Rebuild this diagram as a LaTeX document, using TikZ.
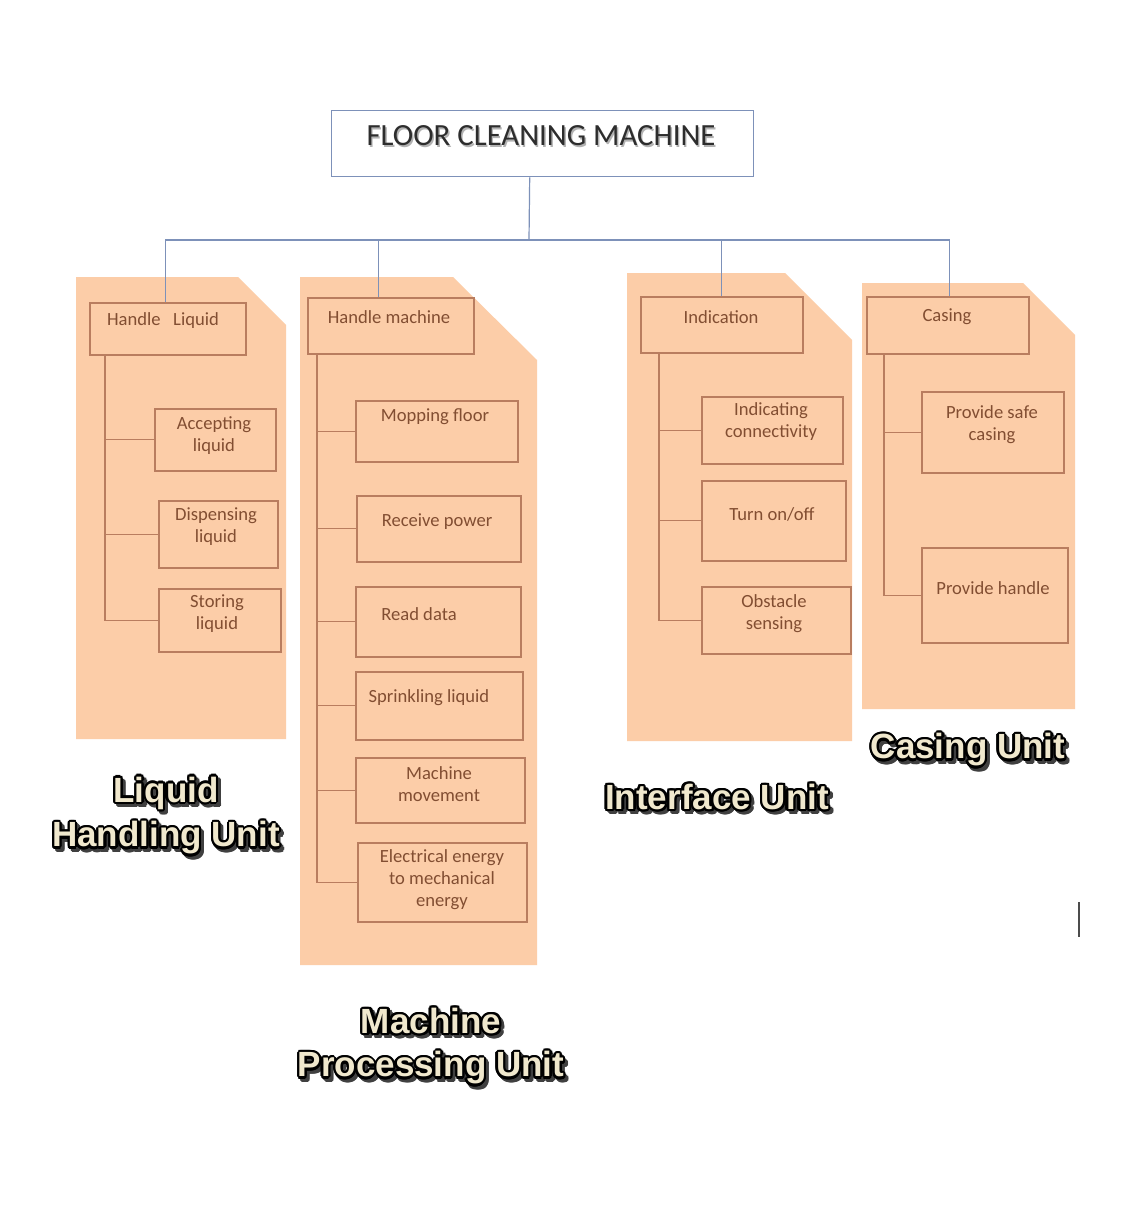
\documentclass[tikz,border=0pt]{standalone}
\usepackage{fontspec}
\setmainfont{Carlito}
\newfontfamily\labfont{Liberation Sans}
\definecolor{peach}{RGB}{252,205,168}
\definecolor{boxborder}{RGB}{185,125,95}
\definecolor{boxtext}{RGB}{130,78,50}
\definecolor{blueline}{RGB}{125,145,185}
\definecolor{cream}{RGB}{240,232,205}
\definecolor{titletext}{RGB}{45,45,45}
\tikzset{
  panel/.style={fill=peach, draw=none},
  bbox/.style={draw=boxborder, line width=0.75pt, inner sep=0pt},
  btext/.style={text=boxtext, align=center, inner sep=0pt, font=\fontsize{9.3}{11}\selectfont},
  brownline/.style={draw=boxborder, line width=0.6pt},
  blueconn/.style={draw=blueline, line width=0.6pt},
  titlebox/.style={draw=blueline, line width=0.7pt, inner sep=0pt},
  titlefont/.style={font=\fontsize{15.4}{18}\selectfont, inner sep=0pt},
  ulab/.style={font=\labfont\bfseries\fontsize{17.5}{21}\selectfont, inner sep=0pt},
  cursorline/.style={draw=black!70, line width=1pt}
}
\newcommand\bx[8]{%
  \node[bbox, anchor=north west, minimum width={(#4-#2)*0.5pt}, minimum height={(#5-#3)*0.5pt}] (#1) at (#2,#3) {};
  \node[btext] (#1t) at (#6,#7) {#8};
}
\newcommand\unitlabel[4]{%
  \foreach \a in {0,30,...,330}{
    \node[ulab, text=black!75, xshift={1.1pt*cos(\a)+1.5pt}, yshift={1.1pt*sin(\a)-1.6pt}] at (#2,#3) {#4};
  }
  \foreach \a in {0,22.5,...,337.5}{
    \node[ulab, text=black, xshift={1.1pt*cos(\a)}, yshift={1.1pt*sin(\a)}] at (#2,#3) {#4};
  }
  \node[ulab, text=cream] (#1) at (#2,#3) {#4};
}
\begin{document}
\begin{tikzpicture}[x=0.5pt, y=-0.5pt]
\useasboundingbox (0,0) rectangle (1126,1220);
\fill[white] (0,0) rectangle (1126,1220);

% panels
\path[panel] (76,277) -- (238,277) -- (286,325) -- (286,739) -- (76,739) -- cycle;
\path[panel] (300,277) -- (453,277) -- (537,360) -- (537,965) -- (300,965) -- cycle;
\path[panel] (627,273) -- (785,273) -- (852,340) -- (852,741) -- (627,741) -- cycle;
\path[panel] (862,283) -- (1023,283) -- (1075,335) -- (1075,709) -- (862,709) -- cycle;

% title
\node[titlebox, anchor=north west, minimum width={422*0.5pt}, minimum height={66*0.5pt}] (title) at (331,110) {};
\node[titlefont, text=black!30, xshift=0.7pt, yshift=-0.7pt] at (541,136) {FLOOR CLEANING MACHINE};
\node[titlefont, text=titletext] (titlet) at (541,136) {FLOOR CLEANING MACHINE};

% panel 1
\bx{hl}{89}{302}{245}{354}{163}{321}{Handle\ \ \ Liquid}
\bx{acc}{154}{408}{275}{470}{214}{436}{Accepting\\liquid}
\bx{dis}{158}{500}{277}{567}{216}{527}{Dispensing\\liquid}
\bx{sto}{158}{588}{280}{651}{217}{614}{Storing\\liquid}

% panel 2
\bx{hm}{307}{297}{473}{353}{389}{317}{Handle machine}
\bx{mop}{355}{400}{517}{461}{435}{417}{Mopping floor}
\bx{rec}{356}{495}{520}{561}{437}{522}{Receive power}
\bx{rea}{355}{586}{520}{656}{419}{614}{Read data}
\bx{spr}{355}{671}{522}{739}{429}{698}{Sprinkling liquid}
\bx{mov}{355}{757}{524}{822}{439}{784}{Machine\\movement}
\bx{ele}{357}{842}{526}{921}{442}{880}{Electrical energy\\to mechanical\\energy}

% panel 3
\bx{ind}{640}{296}{802}{352}{721}{317}{Indication}
\bx{con}{701}{396}{842}{463}{771}{422}{Indicating\\connectivity}
\bx{tur}{701}{480}{845}{560}{772}{514}{Turn on/off}
\bx{obs}{701}{586}{850}{653}{774}{614}{Obstacle\\sensing}

% panel 4
\bx{cas}{866}{296}{1028}{353}{947}{317}{Casing}
\bx{saf}{921}{391}{1063}{472}{992}{425}{Provide safe\\casing}
\bx{han}{921}{547}{1067}{642}{993}{588}{Provide handle}

% top connectors
\coordinate (bar) at (529,240);
\draw[blueconn] ([xshift=-6.5pt]title.south) -- (bar);
\draw[blueconn] ([xshift=-1pt]hl.north) |- (bar);
\draw[blueconn] ([xshift=-6pt]hm.north) |- (bar);
\draw[blueconn] (ind.north) |- (bar);
\draw[blueconn] ([xshift=1pt]cas.north) |- (bar);

% inner connectors
\foreach \c in {acc,dis,sto}{\draw[brownline] ([xshift=8pt]hl.south west) |- (\c.west);}
\foreach \c in {mop,rec,rea,spr,mov,ele}{\draw[brownline] ([xshift=5pt]hm.south west) |- (\c.west);}
\foreach \c in {con,tur,obs}{\draw[brownline] ([xshift=9.5pt]ind.south west) |- (\c.west);}
\foreach \c in {saf,han}{\draw[brownline] ([xshift=9pt]cas.south west) |- (\c.west);}

% unit labels
\unitlabel{lhu1}{166}{793}{Liquid}
\unitlabel{lhu2}{166}{838}{Handling Unit}
\unitlabel{mpu1}{431}{1021}{Machine}
\unitlabel{mpu2}{431}{1068}{Processing Unit}
\unitlabel{ifu}{717}{797}{Interface Unit}
\unitlabel{csu}{968}{750}{Casing Unit}

% cursor mark
\coordinate (cur1) at (1079,902);
\coordinate (cur2) at (1079,937);
\draw[cursorline] (cur1) -- (cur2);
\end{tikzpicture}
\end{document}
